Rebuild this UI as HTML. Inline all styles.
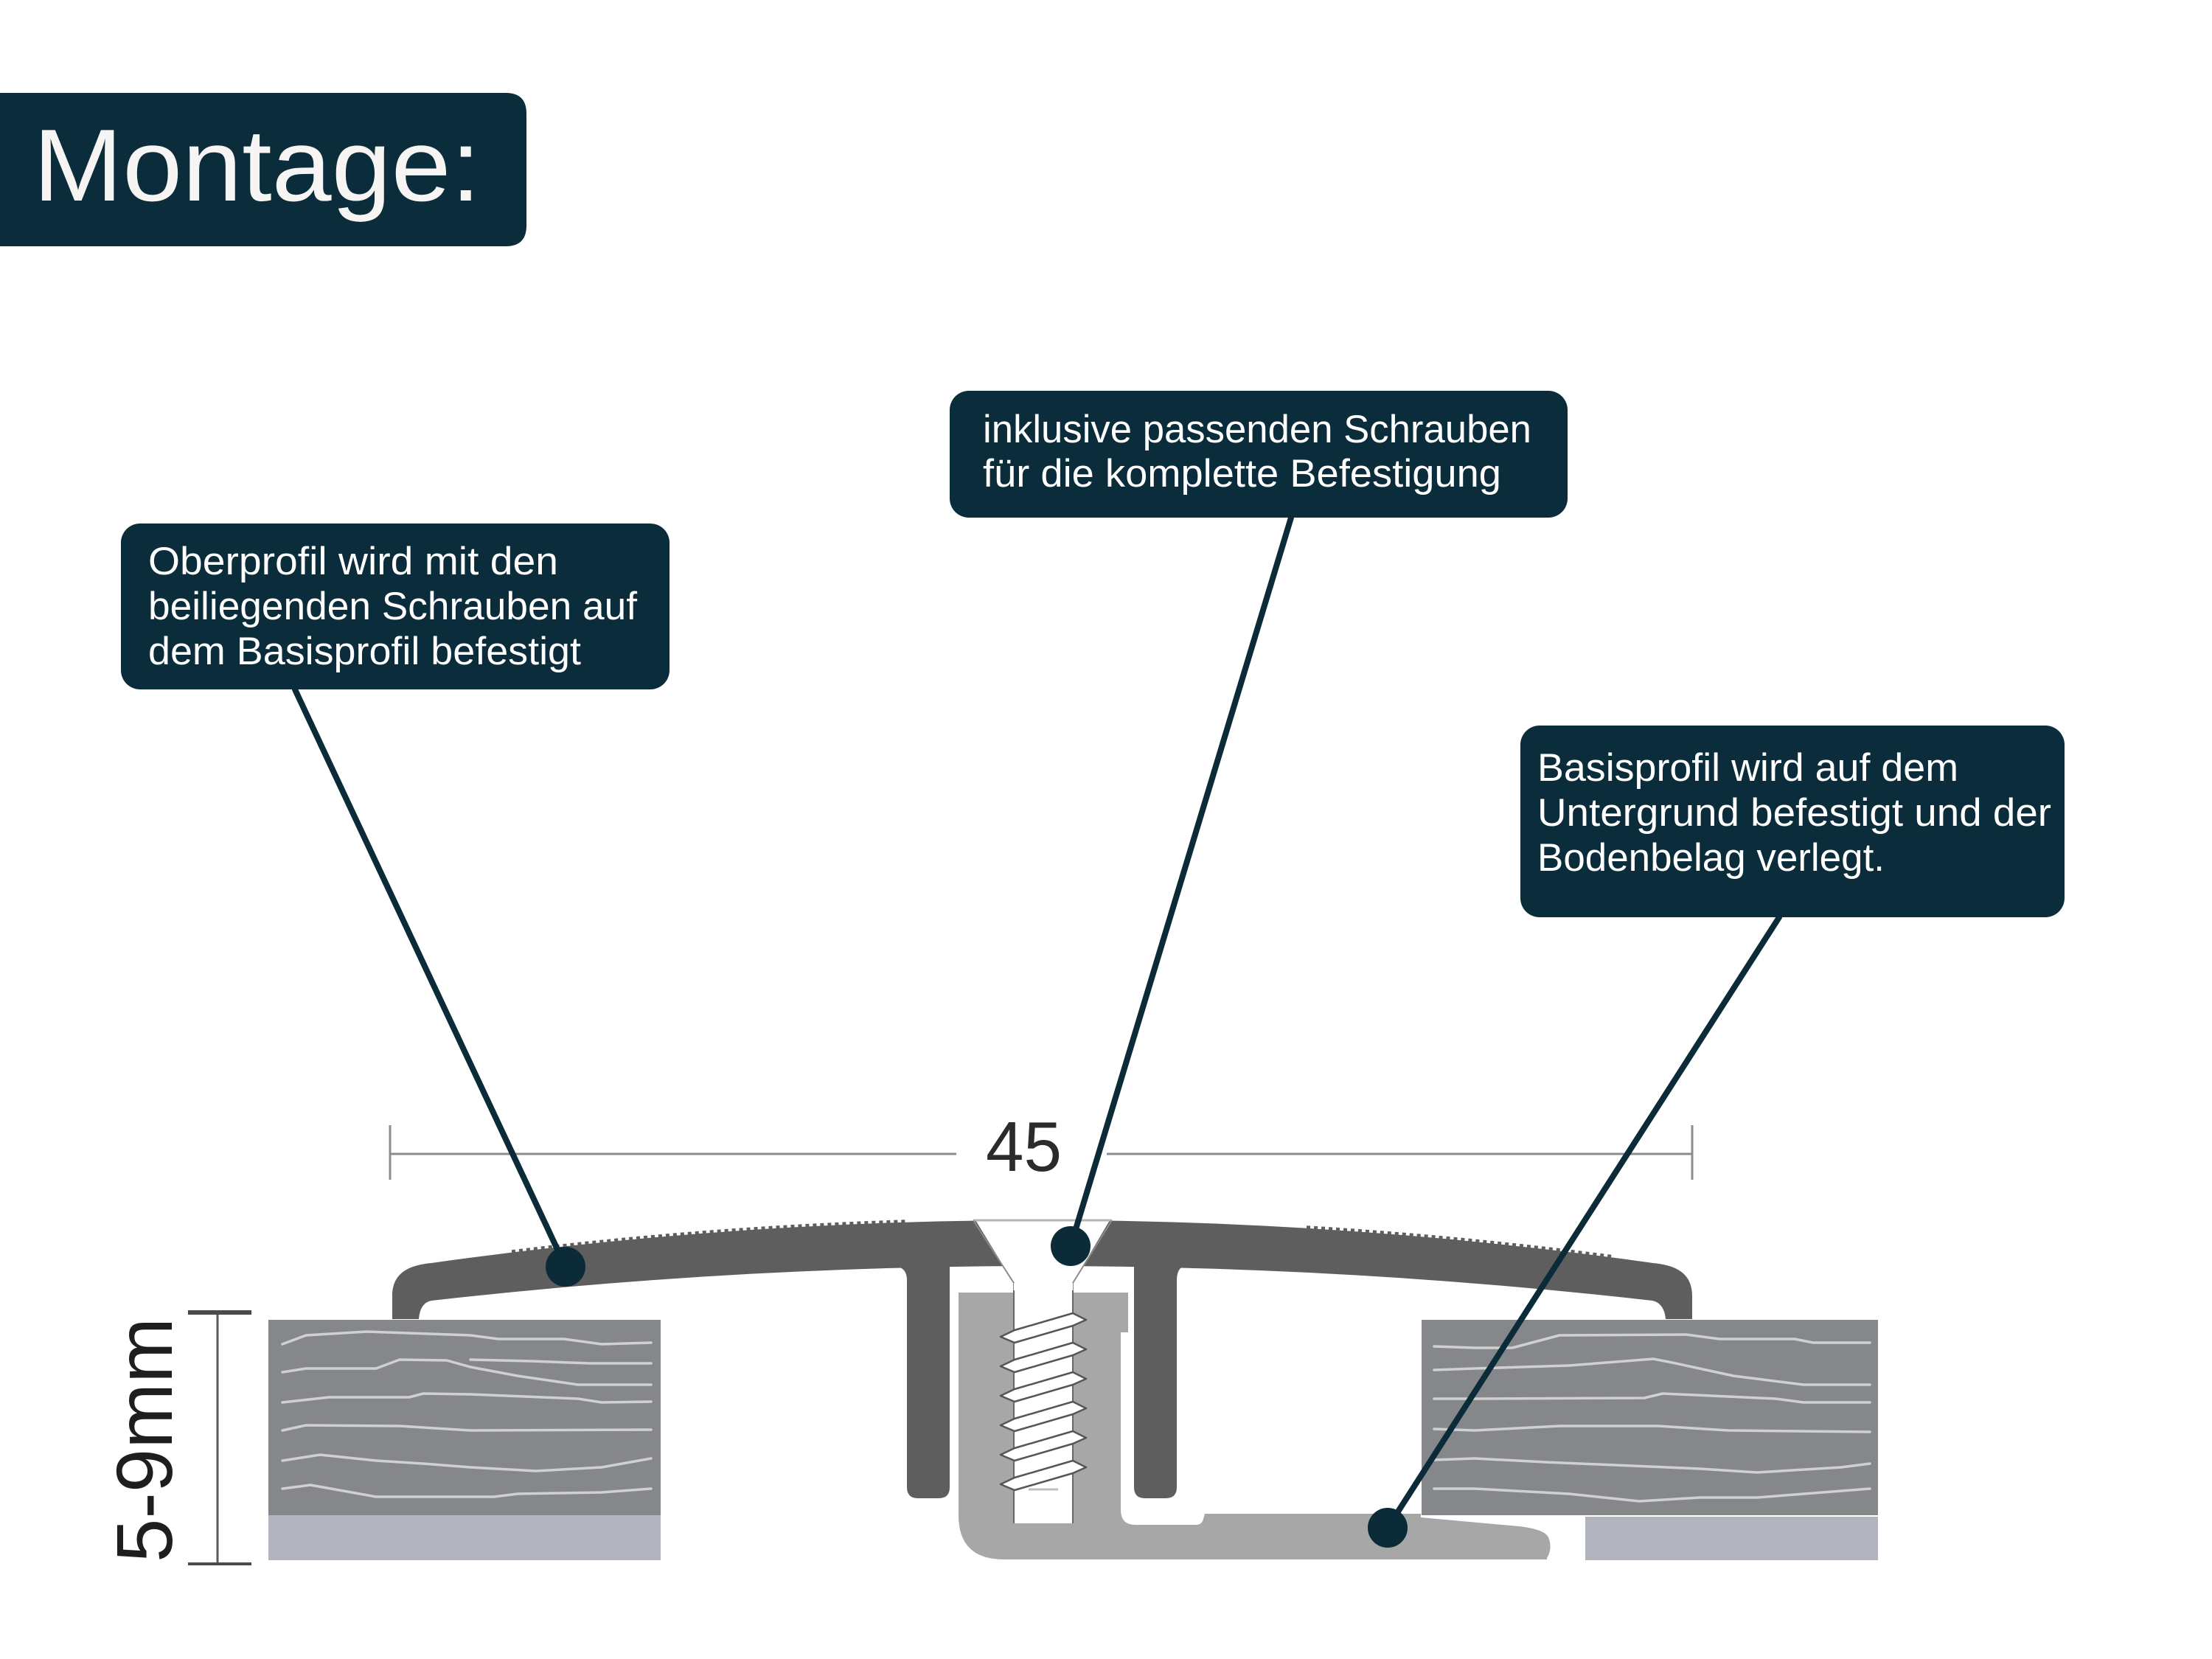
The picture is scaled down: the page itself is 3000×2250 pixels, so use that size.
<!DOCTYPE html>
<html>
<head>
<meta charset="utf-8">
<style>
  html, body { margin:0; padding:0; background:#ffffff; }
  body { width:3000px; height:2250px; overflow:hidden; }
  svg { display:block; }
  .lbl { font-family:"Liberation Sans", sans-serif; font-size:53px; fill:#ffffff; }
</style>
</head>
<body>
<svg width="3000" height="2250" viewBox="0 0 3000 2250" xmlns="http://www.w3.org/2000/svg">
  <defs>
    <clipPath id="teeth">
      <rect x="690" y="1550" width="540" height="250"/>
      <rect x="1770" y="1550" width="420" height="250"/>
    </clipPath>
  </defs>
  <rect x="0" y="0" width="3000" height="2250" fill="#ffffff"/>

  <!-- Title -->
  <path d="M0 126 L686 126 Q714 126 714 154 L714 306 Q714 334 686 334 L0 334 Z" fill="#0b2c3a"/>
  <text x="45" y="272" font-family="Liberation Sans, sans-serif" font-size="139" fill="#f6f5f3" textLength="607" lengthAdjust="spacingAndGlyphs">Montage:</text>

  <!-- Callout 1 -->
  <rect x="164" y="710" width="744" height="225" rx="26" ry="26" fill="#0b2c3a"/>
  <text class="lbl" x="201" y="779" textLength="556" lengthAdjust="spacingAndGlyphs">Oberprofil wird mit den</text>
  <text class="lbl" x="201" y="840" textLength="663" lengthAdjust="spacingAndGlyphs">beiliegenden Schrauben auf</text>
  <text class="lbl" x="201" y="901" textLength="587" lengthAdjust="spacingAndGlyphs">dem Basisprofil befestigt</text>

  <!-- Callout 2 -->
  <rect x="1288" y="530" width="838" height="172" rx="26" ry="26" fill="#0b2c3a"/>
  <text class="lbl" x="1333" y="600" textLength="744" lengthAdjust="spacingAndGlyphs">inklusive passenden Schrauben</text>
  <text class="lbl" x="1333" y="660" textLength="703" lengthAdjust="spacingAndGlyphs">für die komplette Befestigung</text>

  <!-- Callout 3 -->
  <rect x="2062" y="984" width="738" height="260" rx="26" ry="26" fill="#0b2c3a"/>
  <text class="lbl" x="2085" y="1059" textLength="571" lengthAdjust="spacingAndGlyphs">Basisprofil wird auf dem</text>
  <text class="lbl" x="2085" y="1120" textLength="697" lengthAdjust="spacingAndGlyphs">Untergrund befestigt und der</text>
  <text class="lbl" x="2085" y="1181" textLength="471" lengthAdjust="spacingAndGlyphs">Bodenbelag verlegt.</text>

  <!-- Dimension 45 -->
  <g stroke="#8c8c8c" stroke-width="3" fill="none">
    <line x1="529" y1="1565" x2="1297" y2="1565"/>
    <line x1="1501" y1="1565" x2="2295" y2="1565"/>
    <line x1="529" y1="1526" x2="529" y2="1600"/>
    <line x1="2295" y1="1526" x2="2295" y2="1600"/>
  </g>
  <text x="1337" y="1588" font-family="Liberation Sans Narrow, Liberation Sans, sans-serif" font-size="96" fill="#2b2b2b" textLength="103" lengthAdjust="spacingAndGlyphs">45</text>

  <!-- Dimension 5-9mm -->
  <line x1="295" y1="1780" x2="295" y2="2121" stroke="#5a5a5a" stroke-width="3"/>
  <line x1="255" y1="1780" x2="341" y2="1780" stroke="#4a4a4a" stroke-width="6"/>
  <line x1="255" y1="2121" x2="341" y2="2121" stroke="#4a4a4a" stroke-width="4"/>
  <text transform="translate(233,2119) rotate(-90)" x="0" y="0" font-family="Liberation Sans, sans-serif" font-size="108" fill="#1e1e1e" textLength="332" lengthAdjust="spacingAndGlyphs">5-9mm</text>

  <!-- Left board -->
  <rect x="364" y="1790" width="532" height="265" fill="#86878b"/>
  <rect x="364" y="2055" width="532" height="61" fill="#b1b4bc"/>
  <g fill="none" stroke="#cfd0d2" stroke-width="3.5" stroke-linejoin="round" stroke-linecap="round">
    <polyline points="383,1823 415,1811 497,1806 638,1811 676,1816 765,1816 816,1823 883,1821"/>
    <polyline points="383,1861 415,1856 510,1856 542,1844 606,1845 638,1854 702,1866 784,1878 883,1878"/>
    <polyline points="638,1844 720,1846 800,1849 883,1849"/>
    <polyline points="383,1902 446,1895 555,1895 574,1890 638,1891 784,1897 816,1902 883,1901"/>
    <polyline points="383,1940 415,1933 542,1934 638,1940 883,1939"/>
    <polyline points="383,1981 434,1973 510,1981 574,1985 638,1990 727,1995 816,1990 883,1978"/>
    <polyline points="383,2019 421,2014 510,2030 670,2030 702,2026 816,2024 883,2019"/>
  </g>

  <!-- Right board -->
  <rect x="1928" y="1790" width="619" height="265" fill="#86878b"/>
  <rect x="2150" y="2057" width="397" height="59" fill="#b1b4bc"/>
  <g fill="none" stroke="#cfd0d2" stroke-width="3.5" stroke-linejoin="round" stroke-linecap="round">
    <polyline points="1945,1826 2000,1828 2051,1828 2115,1811 2287,1810 2332,1816 2434,1816 2459,1821 2536,1821"/>
    <polyline points="1945,1858 2000,1856 2128,1852 2242,1843 2268,1848 2351,1866 2446,1878 2536,1878"/>
    <polyline points="1945,1897 2000,1897 2230,1896 2255,1890 2408,1897 2446,1902 2536,1902"/>
    <polyline points="1945,1938 2000,1940 2115,1934 2249,1934 2344,1940 2536,1942"/>
    <polyline points="1945,1980 2000,1978 2096,1983 2191,1987 2306,1992 2383,1997 2497,1990 2536,1985"/>
    <polyline points="1945,2019 2000,2019 2128,2026 2223,2036 2306,2031 2383,2031 2536,2019"/>
  </g>

  <!-- Base profile -->
  <path d="M1300 1753 L1530 1753 L1530 1807 L1520 1807 L1520 2048 Q1520 2068 1540 2068 L1622 2068 Q1630 2068 1632 2060 L1634 2053 L1927 2053 L1927 2058 L2060 2070 Q2095 2074 2100 2085 Q2106 2100 2098 2113 L2098 2115 L1362 2115 Q1300 2115 1300 2055 Z" fill="#a7a7a7"/>

  <!-- Top profile plate -->
  <path d="M532 1789 L532 1758 C532 1728 552 1716 585 1713 Q1413 1596.6 2242 1713 C2275 1716 2295 1728 2295 1758 L2295 1789 L2259 1789 C2258 1776 2252 1766 2241 1764 Q1413 1670 585 1764 C574 1766 569 1776 568 1789 Z" fill="#5f5e5e"/>
  <path d="M585 1712 Q1413 1595.6 2242 1712" fill="none" stroke="#5f5e5e" stroke-width="5" stroke-dasharray="5 5" clip-path="url(#teeth)"/>
  <!-- legs -->
  <path d="M1230 1712 L1230 2017 Q1230 2032 1245 2032 L1273 2032 Q1288 2032 1288 2017 L1288 1712 Z" fill="#5f5e5e"/>
  <path d="M1538 1712 L1538 2017 Q1538 2032 1553 2032 L1581 2032 Q1596 2032 1596 2017 L1596 1712 Z" fill="#5f5e5e"/>
  <path d="M1212 1717 Q1230 1718 1230 1736 L1230 1717 Z" fill="#5f5e5e"/>
  <path d="M1596 1736 Q1596 1716 1614 1714 L1596 1714 Z" fill="#5f5e5e"/>

  <!-- Screw head / countersink -->
  <polygon points="1320,1650 1508,1650 1455,1740 1375,1740" fill="#ffffff"/>
  <line x1="1320" y1="1655" x2="1508" y2="1655" stroke="#b5b5b5" stroke-width="3"/>
  <polyline points="1320,1655 1375,1740 1375,1755" fill="none" stroke="#8a8a8a" stroke-width="2"/>
  <polyline points="1508,1655 1455,1740 1455,1755" fill="none" stroke="#8a8a8a" stroke-width="2"/>

  <!-- Screw shank -->
  <rect x="1375" y="1740" width="80" height="326" fill="#ffffff"/>
  <line x1="1375" y1="1750" x2="1375" y2="2066" stroke="#666" stroke-width="2"/>
  <line x1="1455" y1="1750" x2="1455" y2="2066" stroke="#666" stroke-width="2"/>
  <g fill="#ffffff" stroke="#555" stroke-width="2.5" stroke-linejoin="round">
    <polygon points="1357,1813 1376,1804 1455,1781 1473,1790 1455,1798 1376,1821"/>
    <polygon points="1357,1853 1376,1844 1455,1821 1473,1830 1455,1838 1376,1861"/>
    <polygon points="1357,1893 1376,1884 1455,1861 1473,1870 1455,1878 1376,1901"/>
    <polygon points="1357,1933 1376,1924 1455,1901 1473,1910 1455,1918 1376,1941"/>
    <polygon points="1357,1973 1376,1964 1455,1941 1473,1950 1455,1958 1376,1981"/>
    <polygon points="1357,2013 1376,2004 1455,1981 1473,1990 1455,1998 1376,2021"/>
  </g>
  <line x1="1395" y1="2020" x2="1435" y2="2020" stroke="#bdbdbd" stroke-width="3"/>

  <!-- Connectors -->
  <g stroke="#0b2b38" stroke-width="8" stroke-linecap="round">
    <line x1="400" y1="935" x2="767" y2="1718"/>
    <line x1="1751" y1="702" x2="1452" y2="1690"/>
    <line x1="2413" y1="1244" x2="1882" y2="2072"/>
  </g>
  <g fill="#0b2b38">
    <circle cx="767" cy="1718" r="27"/>
    <circle cx="1452" cy="1690" r="27"/>
    <circle cx="1882" cy="2072" r="27"/>
  </g>
</svg>
</body>
</html>
